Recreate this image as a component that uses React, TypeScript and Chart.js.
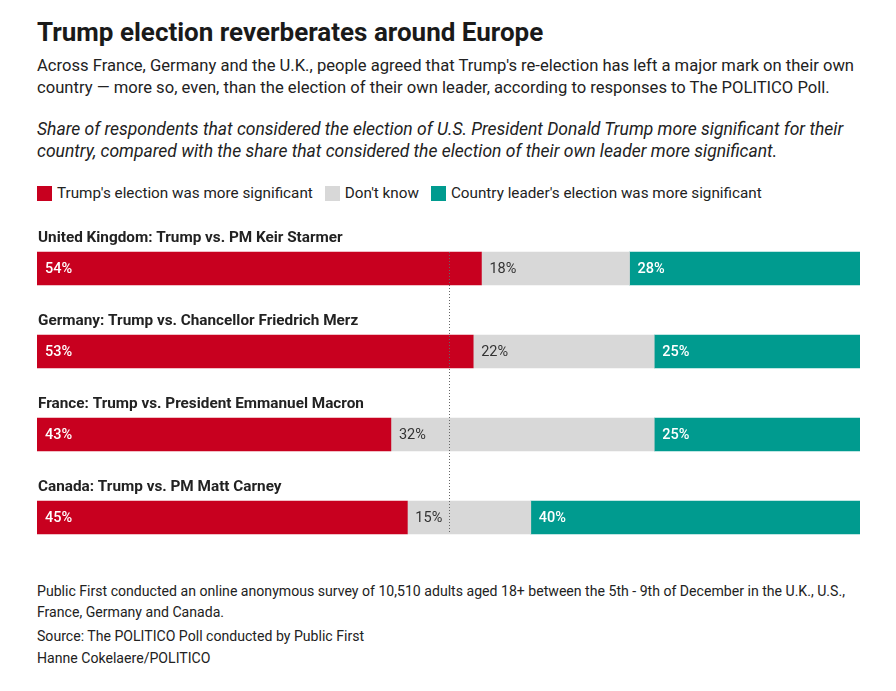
import React, { useEffect, useRef } from "react";
import { Chart, registerables } from "chart.js";

Chart.register(...registerables);

const categories = [
  "United Kingdom: Trump vs. PM Keir Starmer",
  "Germany: Trump vs. Chancellor Friedrich Merz",
  "France: Trump vs. President Emmanuel Macron",
  "Canada: Trump vs. PM Matt Carney",
];
const trumpMore = [54, 53, 43, 45];
const dontKnow = [18, 22, 32, 15];
const leaderMore = [28, 25, 25, 40];
const seriesNames = [
  "Trump's election was more significant",
  "Don't know",
  "Country leader's election was more significant",
];
const RED = "#C8001F";
const GREY = "#D8D8D8";
const TEAL = "#009B8F";
const FONT = "Roboto, 'Noto Sans', sans-serif";
const TEXT = "#222222";

const overlayPlugin = {
  id: "overlay",
  afterDatasetsDraw(chart: any) {
    const ctx = chart.ctx;
    const xScale = chart.scales.x;
    ctx.save();
    chart.data.datasets.forEach((ds: any, di: number) => {
      const meta = chart.getDatasetMeta(di);
      meta.data.forEach((el: any, i: number) => {
        const v = ds.data[i];
        const left = Math.min(el.base, el.x);
        ctx.font = di === 1 ? `400 14.5px ${FONT}` : `500 14.5px ${FONT}`;
        ctx.fillStyle = di === 1 ? "#333333" : "#ffffff";
        ctx.textBaseline = "middle";
        ctx.textAlign = "left";
        ctx.fillText(`${v}%`, left + 8, el.y + 1);
      });
    });
    const meta0 = chart.getDatasetMeta(0);
    ctx.font = `700 15.3px ${FONT}`;
    ctx.fillStyle = TEXT;
    ctx.textBaseline = "alphabetic";
    meta0.data.forEach((el: any, i: number) => {
      const top = el.y - el.height / 2;
      ctx.fillText(categories[i], xScale.left + 1, top - 10);
    });
    const first = meta0.data[0];
    const last = meta0.data[meta0.data.length - 1];
    const x = Math.round(xScale.getPixelForValue(50)) + 0.5;
    ctx.strokeStyle = "#666666";
    ctx.lineWidth = 1;
    ctx.setLineDash([1, 2]);
    ctx.beginPath();
    ctx.moveTo(x, first.y - first.height / 2);
    ctx.lineTo(x, last.y + last.height / 2);
    ctx.stroke();
    ctx.restore();
  },
};

function BarChart() {
  const ref = useRef<HTMLCanvasElement>(null);
  useEffect(() => {
    if (!ref.current) return;
    const chart = new Chart(ref.current, {
      type: "bar",
      data: {
        labels: categories,
        datasets: [
          { label: seriesNames[0], data: trumpMore, backgroundColor: RED },
          { label: seriesNames[1], data: dontKnow, backgroundColor: GREY },
          { label: seriesNames[2], data: leaderMore, backgroundColor: TEAL },
        ],
      },
      options: {
        indexAxis: "y",
        animation: false,
        responsive: true,
        maintainAspectRatio: false,
        layout: { padding: 0 },
        datasets: { bar: { barThickness: 33, borderWidth: 0 } },
        scales: {
          x: { stacked: true, min: 0, max: 100, display: false },
          y: { stacked: true, display: false },
        },
        plugins: {
          legend: { display: false },
          tooltip: { enabled: false },
        },
      },
      plugins: [overlayPlugin],
    } as any);
    return () => chart.destroy();
  }, []);
  return <canvas ref={ref} />;
}

const abs = (top: number, extra: React.CSSProperties = {}): React.CSSProperties => ({
  position: "absolute",
  left: 37,
  top,
  whiteSpace: "nowrap",
  color: TEXT,
  fontFamily: FONT,
  ...extra,
});

export default function App() {
  const legendColors = [RED, GREY, TEAL];
  return (
    <div
      style={{
        position: "absolute",
        left: 0,
        top: 0,
        width: 896,
        height: 691,
        background: "#fff",
        fontFamily: FONT,
        color: TEXT,
      }}
    >
      <div style={abs(16, { fontSize: 26, fontWeight: 700, lineHeight: "32px", color: "#1a1a1a" })}>
        Trump election reverberates around Europe
      </div>
      <div style={abs(55, { fontSize: 16.6, lineHeight: "22px" })}>
        <div>
          Across France, Germany and the U.K., people agreed that Trump's re-election has left a major mark on their own
        </div>
        <div>
          country — more so, even, than the election of their own leader, according to responses to The POLITICO Poll.
        </div>
      </div>
      <div style={abs(119, { fontSize: 17.5, lineHeight: "21.5px", fontStyle: "italic" })}>
        <div>
          Share of respondents that considered the election of U.S. President Donald Trump more significant for their
        </div>
        <div>
          country, compared with the share that considered the election of their own leader more significant.
        </div>
      </div>
      <div style={abs(182, { fontSize: 15.25, lineHeight: "22px", display: "flex", alignItems: "center" })}>
        {seriesNames.map((n, i) => (
          <div key={n} style={{ display: "flex", alignItems: "center", marginRight: 12 }}>
            <span
              style={{
                display: "inline-block",
                width: 15,
                height: 15,
                background: legendColors[i],
                marginRight: 5,
              }}
            />
            <span>{n}</span>
          </div>
        ))}
      </div>
      <div style={{ position: "absolute", left: 37, top: 227, width: 823, height: 332 }}>
        <BarChart />
      </div>
      <div style={abs(581, { fontSize: 14.1, lineHeight: "21px" })}>
        <div>
          Public First conducted an online anonymous survey of 10,510 adults aged 18+ between the 5th - 9th of December in the U.K., U.S.,
        </div>
        <div>France, Germany and Canada.</div>
      </div>
      <div style={abs(625, { fontSize: 14.1, lineHeight: "22px" })}>
        Source: The POLITICO Poll conducted by Public First
      </div>
      <div style={abs(647, { fontSize: 14.1, lineHeight: "22px" })}>Hanne Cokelaere/POLITICO</div>
    </div>
  );
}
